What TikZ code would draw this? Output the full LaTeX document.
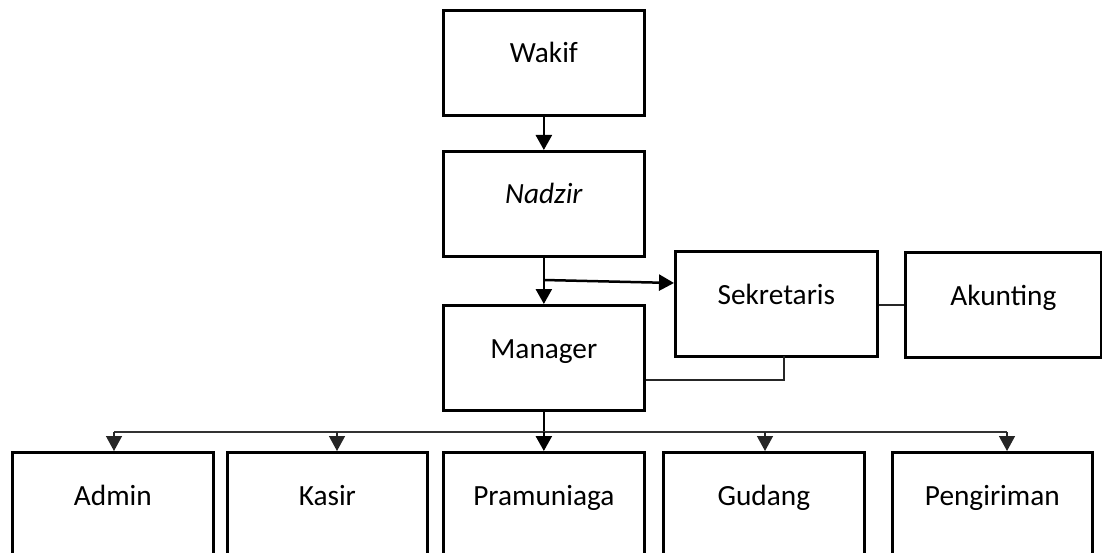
\documentclass[tikz,border=0pt]{standalone}
\usepackage{fontspec}
\setmainfont{Carlito}
\usetikzlibrary{arrows.meta,calc}
\tikzset{
  orgbox/.style={draw=black, line width=2.7pt, inner sep=0pt, minimum width=201pt, minimum height=105pt, anchor=north west},
  lbl/.style={anchor=base, inner sep=0pt, font=\fontsize{29.3pt}{35pt}\selectfont},
  thickarrow/.style={line width=2.5pt, -{Triangle[width=16pt,length=15pt]}},
  thinarrow/.style={line width=1.4pt, draw=black!85, -{Triangle[width=16pt,length=15pt]}},
  thinline/.style={line width=1.1pt, draw=black!85},
  busline/.style={line width=1.4pt, draw=black!80}
}
\begin{document}
\begin{tikzpicture}[x=1pt,y=-1pt]
\useasboundingbox (0,0) rectangle (1102,553);
\clip (0,0) rectangle (1102,553);
% top column
\node[orgbox] (wakif) at (442,9) {};
\node[orgbox] (nadzir) at (442,150) {};
\node[orgbox] (manager) at (442,304) {};
\node[orgbox, minimum width=202pt] (sek) at (674,250) {};
\node[orgbox, minimum width=196pt] (akun) at (904,251) {};
\node[lbl] (twakif) at ([yshift=-54pt]wakif.north) {Wakif};
\node[lbl] (tnadzir) at ([yshift=-54pt]nadzir.north) {\itshape Nadzir};
\node[lbl] (tmanager) at ([yshift=-54pt]manager.north) {Manager};
\node[lbl] (tsek) at ([yshift=-54pt]sek.north) {Sekretaris};
\node[lbl] (takun) at ([yshift=-54pt]akun.north) {Akunting};
% bottom row
\node[orgbox, minimum height=140pt] (admin) at (11,451) {};
\node[orgbox, minimum height=140pt, minimum width=200pt] (kasir) at (226,451) {};
\node[orgbox, minimum height=140pt] (pram) at (442,451) {};
\node[orgbox, minimum height=140pt] (gudang) at (662,451) {};
\node[orgbox, minimum height=140pt, minimum width=200pt] (kirim) at (891,451) {};
\node[lbl] (tadmin) at ([yshift=-54pt]admin.north) {Admin};
\node[lbl] (tkasir) at ([yshift=-54pt]kasir.north) {Kasir};
\node[lbl] (tpram) at ([yshift=-54pt]pram.north) {Pramuniaga};
\node[lbl] (tgudang) at ([yshift=-54pt]gudang.north) {Gudang};
\node[lbl] (tkirim) at ([yshift=-54pt]kirim.north) {Pengiriman};
% connectors top
\draw[thickarrow] (wakif.south) -- (nadzir.north);
\draw[thickarrow] (nadzir.south) -- (manager.north);
\coordinate (branch) at (nadzir.south |- 0,280);
\coordinate (sekin) at (sek.west |- 0,283);
\draw[thickarrow] (branch) -- (sekin);
\draw[thinline] (sek.east |- 0,305) -- (akun.west |- 0,305);
\coordinate (mgrR) at (manager.east |- 0,380);
\coordinate (sekB) at (784,356);
\draw[thinline] (mgrR) -| (sekB);
% bus
\coordinate (busC) at (manager.south |- 0,432);
\coordinate (busL) at (114,432);
\coordinate (busR) at (1007,432);
\draw[line width=2.5pt] (manager.south) -- (busC);
\draw[busline] (busL) -- (busR);
\coordinate (aA) at (114,451);
\coordinate (aK) at (337,451);
\coordinate (aG) at (765,451);
\coordinate (aP) at (1007,451);
\draw[thinarrow] (busL) -- (aA);
\draw[thinarrow] (337,432) -- (aK);
\draw[thickarrow] (busC) -- (pram.north);
\draw[thinarrow] (765,432) -- (aG);
\draw[thinarrow] (busR) -- (aP);
\end{tikzpicture}
\end{document}
